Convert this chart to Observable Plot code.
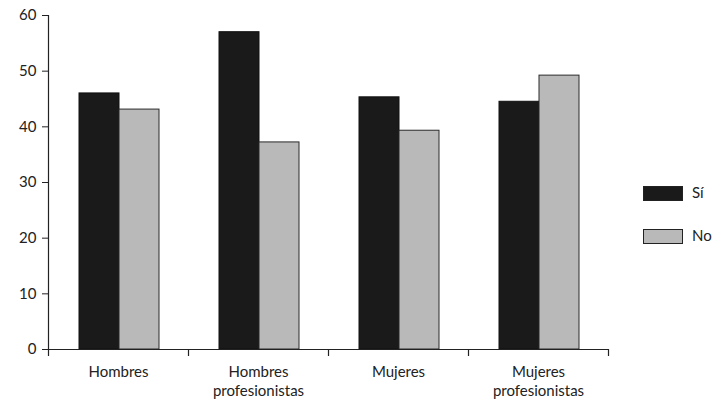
<!DOCTYPE html>
<html>
<head>
<meta charset="utf-8">
<script src="https://cdn.jsdelivr.net/npm/d3@7"></script>
<script src="https://cdn.jsdelivr.net/npm/@observablehq/plot@0.6"></script>
<style>
  html, body { margin: 0; padding: 0; background: #fff; }
  #wrap { position: relative; width: 716px; height: 401px; overflow: hidden; font-family: Lato, "Open Sans", sans-serif; color: #222; }
  .leg { position: absolute; left: 643px; width: 40px; height: 15px; box-sizing: border-box; border: 1px solid #222; }
  .legt { position: absolute; left: 692px; font-size: 15px; line-height: 15px; }
</style>
</head>
<body>
<div id="wrap"></div>
<script>
const categories = ["Hombres", "Hombres\nprofesionistas", "Mujeres", "Mujeres\nprofesionistas"];
const series = ["Sí", "No"];
const valuesSi = [46.0, 57.0, 45.3, 44.5];
const valuesNo = [43.1, 37.2, 39.3, 49.2];
const yTicks = [0, 10, 20, 30, 40, 50, 60];
const colors = ["#1a1a1a", "#b9b9b9"];

const siData = categories.map((c, i) => ({cat: c, serie: series[0], value: valuesSi[i]}));
const noData = categories.map((c, i) => ({cat: c, serie: series[1], value: valuesNo[i]}));

const chart = Plot.plot({
  width: 716,
  height: 401,
  marginLeft: 48,
  marginRight: 108,
  marginTop: 15,
  marginBottom: 52,
  style: {fontFamily: "Lato, 'Open Sans', sans-serif", fontSize: "15px", color: "#222", background: "#fff"},
  x: {domain: categories, padding: 0, label: null},
  y: {domain: [0, 60], label: null},
  marks: [
    Plot.barY(siData, {x: "cat", y: "value", fill: colors[0], stroke: "#111", strokeWidth: 1, insetLeft: 31, insetRight: 69}),
    Plot.barY(noData, {x: "cat", y: "value", fill: colors[1], stroke: "#2a2a2a", strokeWidth: 1, insetLeft: 71, insetRight: 29}),
    Plot.ruleY([0], {stroke: "#222", strokeWidth: 1.2}),
    Plot.ruleX([categories[0]], {x: d => d, dx: -70, y1: 60, y2: 0, insetBottom: -7, stroke: "#222", strokeWidth: 1.2}),
    Plot.ruleX(categories, {x: d => d, dx: 70, y1: 0, y2: 0, insetBottom: -7, stroke: "#222", strokeWidth: 1.2}),
    Plot.axisY(yTicks, {tickSize: 6, tickPadding: 6, fontSize: 15, stroke: "#222", label: null}),
    Plot.axisX({tickSize: 0, tickPadding: 14, fontSize: 15, lineHeight: 1.27, label: null})
  ]
});

const wrap = document.getElementById("wrap");
wrap.appendChild(chart);

series.forEach((s, i) => {
  const top = i === 0 ? 186 : 229;
  const sw = document.createElement("div");
  sw.className = "leg";
  sw.style.top = top + "px";
  sw.style.background = colors[i];
  wrap.appendChild(sw);
  const t = document.createElement("div");
  t.className = "legt";
  t.style.top = (top - 1) + "px";
  t.textContent = s;
  wrap.appendChild(t);
});
</script>
</body>
</html>
